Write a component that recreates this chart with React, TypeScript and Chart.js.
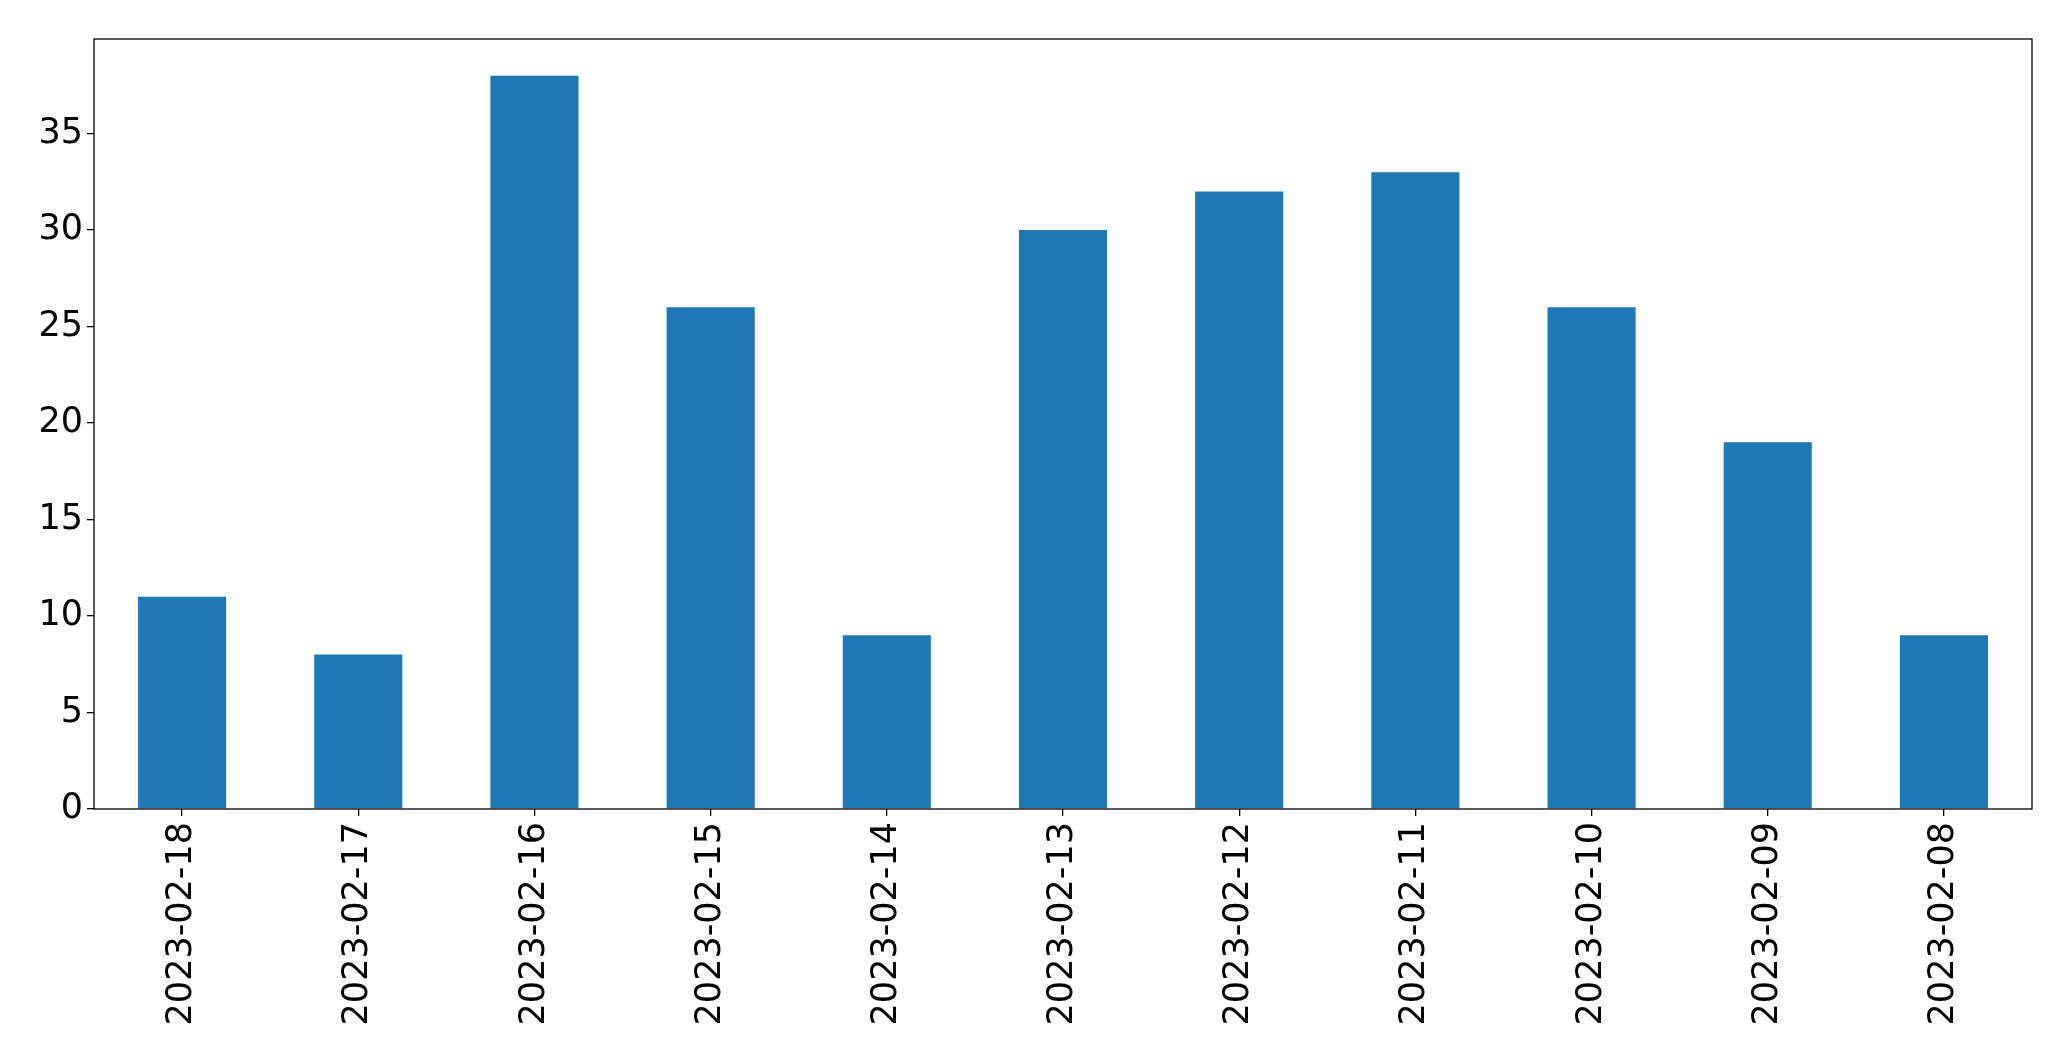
import React, { useEffect, useRef } from "react";
import { Chart, registerables } from "chart.js";

Chart.register(...registerables);

const categories = [
  "2023-02-18", "2023-02-17", "2023-02-16", "2023-02-15", "2023-02-14", "2023-02-13",
  "2023-02-12", "2023-02-11", "2023-02-10", "2023-02-09", "2023-02-08",
];
const values = [11, 8, 38, 26, 9, 30, 32, 33, 26, 19, 9];
const yTicks = [0, 5, 10, 15, 20, 25, 30, 35];
const yMax = 39.9;

const framePlugin = {
  id: "frame",
  afterDraw(chart: any) {
    const { ctx, chartArea } = chart;
    ctx.save();
    ctx.strokeStyle = "#000";
    ctx.lineWidth = 1.3;
    ctx.strokeRect(chartArea.left, chartArea.top, chartArea.right - chartArea.left, chartArea.bottom - chartArea.top);
    ctx.restore();
  },
};

export default function App() {
  const ref = useRef<HTMLCanvasElement | null>(null);
  useEffect(() => {
    document.body.style.margin = "0";
    const font = { family: "DejaVu Sans", size: 35 };
    const chart = new Chart(ref.current!, {
      type: "bar",
      data: {
        labels: categories,
        datasets: [{ data: values, backgroundColor: "#1f77b4", categoryPercentage: 1, barPercentage: 0.5 }],
      },
      options: {
        animation: false,
        responsive: false,
        layout: { padding: { top: 39, right: 39, left: 0, bottom: 0 } },
        plugins: { legend: { display: false }, tooltip: { enabled: false } },
        scales: {
          x: {
            offset: true,
            grid: { display: true, offset: false, drawOnChartArea: false, drawTicks: true, tickLength: 7, color: "#000", tickColor: "#000", lineWidth: 1.3 },
            border: { display: false },
            ticks: { color: "#000", font, minRotation: 90, maxRotation: 90, padding: 6, autoSkip: false },
            afterFit(scale: any) { scale.height = 252; },
          },
          y: {
            min: 0,
            max: yMax,
            grid: { display: true, drawOnChartArea: false, drawTicks: true, tickLength: 7, color: "#000", tickColor: "#000", lineWidth: 1.3 },
            border: { display: false },
            ticks: { color: "#000", font, padding: 4 },
            afterBuildTicks(scale: any) { scale.ticks = yTicks.map((v) => ({ value: v })); },
            afterFit(scale: any) { scale.width = 94; },
          },
        },
      },
      plugins: [framePlugin],
    });
    return () => chart.destroy();
  }, []);
  return (
    <div style={{ position: "absolute", left: 0, top: 0, width: 2071, height: 1061, background: "#fff" }}>
      <canvas ref={ref} width={2071} height={1061} />
    </div>
  );
}
